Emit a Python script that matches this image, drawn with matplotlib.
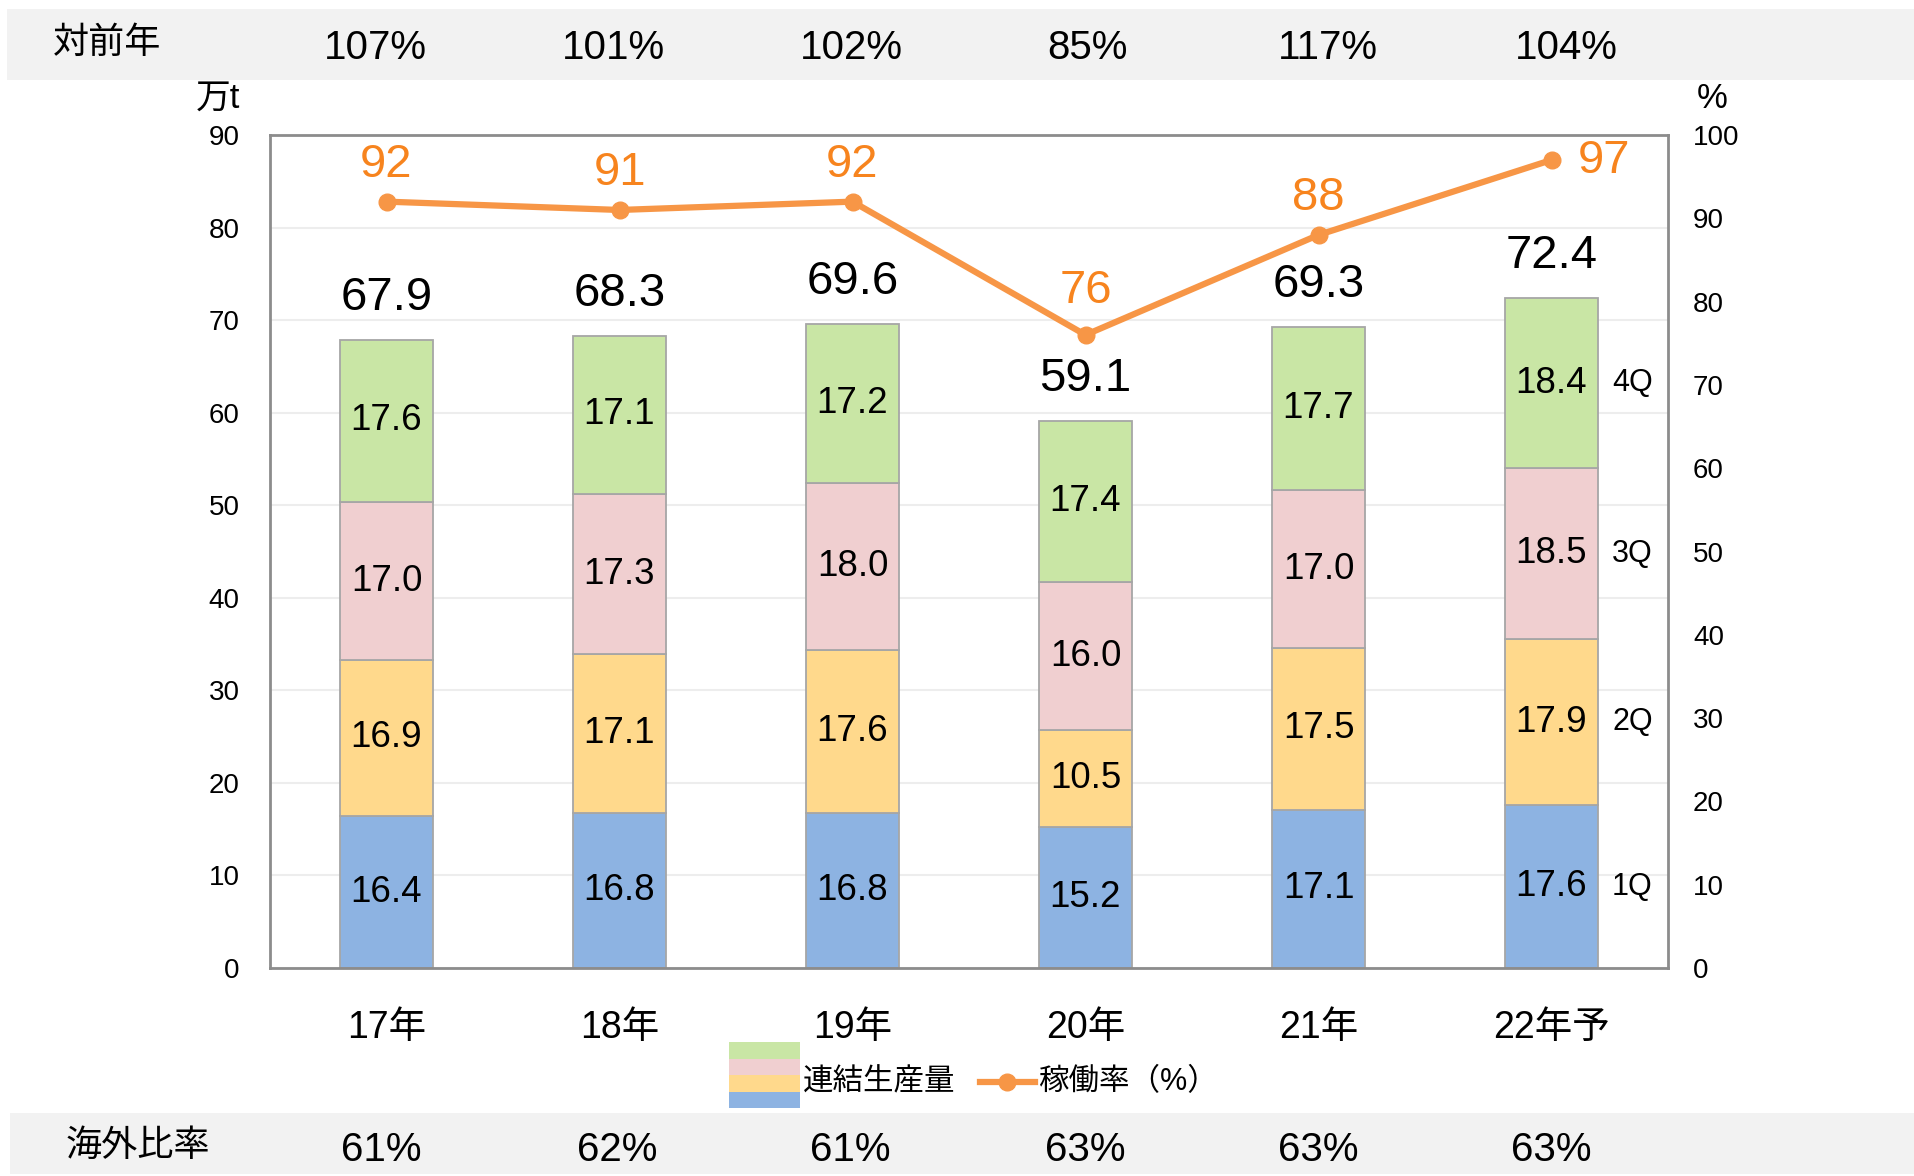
import matplotlib.pyplot as plt
import matplotlib.transforms as mtransforms
from matplotlib.patches import Rectangle
from matplotlib.lines import Line2D

plt.rcParams['font.family'] = ['Liberation Sans', 'Noto Sans CJK JP', 'DejaVu Sans']

# data
years = ["17年", "18年", "19年", "20年", "21年", "22年予"]
q1 = [16.4, 16.8, 16.8, 15.2, 17.1, 17.6]
q2 = [16.9, 17.1, 17.6, 10.5, 17.5, 17.9]
q3 = [17.0, 17.3, 18.0, 16.0, 17.0, 18.5]
q4 = [17.6, 17.1, 17.2, 17.4, 17.7, 18.4]
totals = [67.9, 68.3, 69.6, 59.1, 69.3, 72.4]
util_rate = [92, 91, 92, 76, 88, 97]
yoy = ["107%", "101%", "102%", "85%", "117%", "104%"]
overseas = ["61%", "62%", "61%", "63%", "63%", "63%"]
quarter_names = ["1Q", "2Q", "3Q", "4Q"]

colors = ["#8DB3E2", "#FFD98C", "#F0CFD0", "#C9E6A5"]
orange_line = "#F79646"
orange_text = "#F7841E"

W, H = 1914, 1176
fig = plt.figure(figsize=(W / 100, H / 100), dpi=100)
ax = fig.add_axes([270 / W, 1 - 968 / H, (1668 - 270) / W, (968 - 135) / H])

# gray bands top and bottom
fig.add_artist(Rectangle((7 / W, 1 - 80 / H), 1, 71 / H, transform=fig.transFigure,
                         facecolor="#F2F2F2", edgecolor="none", zorder=0))
fig.add_artist(Rectangle((10 / W, 0.002), 1, (1176 - 1113) / H - 0.002, transform=fig.transFigure,
                         facecolor="#F2F2F2", edgecolor="none", zorder=0))

x = list(range(len(years)))
series = [q1, q2, q3, q4]
bottoms = [0] * len(years)
for s, c in zip(series, colors):
    ax.bar(x, s, bottom=bottoms, width=0.4, color=c, edgecolor="#A6A6A6", linewidth=1.3, zorder=2)
    for i, v in enumerate(s):
        ax.text(i, bottoms[i] + v / 2, f"{v:.1f}", ha="center", va="center", fontsize=26.5, zorder=3)
    bottoms = [b + v for b, v in zip(bottoms, s)]

for i, t in enumerate(totals):
    ax.annotate(f"{t:.1f}", (i, t), xytext=(0, 42), textcoords="offset pixels",
                ha="center", va="center", fontsize=34)

# quarter labels to the right of the last bar
b = 0
for name, s in zip(quarter_names, series):
    ax.text(5.26, b + s[-1] / 2, name, ha="left", va="center", fontsize=22)
    b += s[-1]

ax.set_xlim(-0.5, 5.5)
ax.set_ylim(0, 90)
ax.set_yticks(range(0, 91, 10))
ax.set_xticks(x)
ax.set_xticklabels(years, fontsize=27)
ax.tick_params(axis="x", length=0, pad=30)
ax.tick_params(axis="y", length=0, pad=22, labelsize=20)
ax.grid(axis="y", color="#EDEDED", linewidth=1.5, zorder=0)
ax.set_axisbelow(True)
for sp in ax.spines.values():
    sp.set_color("#8C8C8C")
    sp.set_linewidth(2)

ax2 = ax.twinx()
ax2.set_ylim(0, 100)
ax2.set_yticks(range(0, 101, 10))
ax2.tick_params(axis="y", length=0, pad=18, labelsize=20)
ax2.plot(x, util_rate, color=orange_line, linewidth=4.5, marker="o", markersize=12, zorder=5)
for i, r in enumerate(util_rate):
    if i == len(util_rate) - 1:
        ax2.annotate(str(r), (i, r), xytext=(52, -1), textcoords="offset pixels",
                     ha="center", va="center", fontsize=34, color=orange_text)
    elif r < 80:
        ax2.annotate(str(r), (i, r), xytext=(0, 44), textcoords="offset pixels",
                     ha="center", va="center", fontsize=34, color=orange_text)
    else:
        ax2.annotate(str(r), (i, r), xytext=(0, 37), textcoords="offset pixels",
                     ha="center", va="center", fontsize=34, color=orange_text)
for sp in ax2.spines.values():
    sp.set_visible(False)

# unit labels
fig.text(218 / W, 1 - 98 / H, "万t", ha="center", va="center", fontsize=25)
fig.text(1712 / W, 1 - 98 / H, "%", ha="center", va="center", fontsize=25)

# band texts (hand-placed offsets, px)
yoy_shift = [-11, -6, -1, 2, 9, 15]
ovs_shift = [-5, -2, -2, 0, 0, 0]
fig.text(107 / W, 1 - 43 / H, "対前年", ha="center", va="center", fontsize=26)
fig.text(138 / W, 1 - 1146 / H, "海外比率", ha="center", va="center", fontsize=26)
trans = mtransforms.blended_transform_factory(ax.transData, fig.transFigure)
for i in x:
    ax.annotate(yoy[i], (i, 1 - 48 / H), xycoords=trans, xytext=(yoy_shift[i], 0),
                textcoords="offset pixels", ha="center", va="center", fontsize=29, annotation_clip=False)
    ax.annotate(overseas[i], (i, 1 - 1150 / H), xycoords=trans, xytext=(ovs_shift[i], 0),
                textcoords="offset pixels", ha="center", va="center", fontsize=29, annotation_clip=False)

# legend drawn by hand
ly0 = 1042
for k, c in enumerate(reversed(colors)):
    fig.add_artist(Rectangle((729 / W, 1 - (ly0 + 16.5 * (k + 1)) / H), 71 / W, 16.5 / H,
                             transform=fig.transFigure, facecolor=c, edgecolor="none"))
fig.text(803 / W, 1 - 1082 / H, "連結生産量", ha="left", va="center", fontsize=22)
fig.add_artist(Line2D([980 / W, 1035 / W], [1 - 1082 / H, 1 - 1082 / H], transform=fig.transFigure,
                      color=orange_line, linewidth=4.5))
fig.add_artist(Line2D([1007 / W], [1 - 1082 / H], transform=fig.transFigure,
                      color=orange_line, marker="o", markersize=12, linestyle="none"))
fig.text(1039 / W, 1 - 1082 / H, "稼働率（%）", ha="left", va="center", fontsize=22)

fig.savefig("out.png", dpi=100)
